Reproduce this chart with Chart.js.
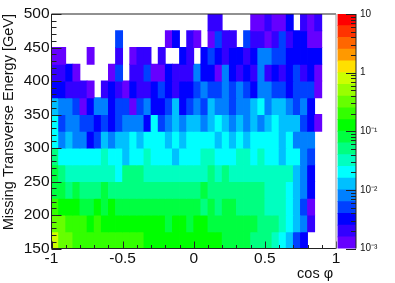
<!DOCTYPE html>
<html>
<head>
<meta charset="utf-8">
<style>
  html, body { margin: 0; padding: 0; background: #fff; }
  #wrap { position: relative; width: 395px; height: 283px; overflow: hidden; }
  canvas { position: absolute; top: 0; }
  #plot { left: 0; }
  #bar { left: 330px; }
</style>
<script src="https://cdn.jsdelivr.net/npm/chart.js@4"></script>
</head>
<body>
<div id="wrap">
  <canvas id="plot" width="395" height="283"></canvas>
  <canvas id="bar" width="65" height="283"></canvas>
</div>
<script>
'use strict';
var _ = null;

// bin centres and edges
var cosPhiBins = [-0.975, -0.925, -0.875, -0.825, -0.775, -0.725, -0.675, -0.625, -0.575, -0.525,
  -0.475, -0.425, -0.375, -0.325, -0.275, -0.225, -0.175, -0.125, -0.075, -0.025,
  0.025, 0.075, 0.125, 0.175, 0.225, 0.275, 0.325, 0.375, 0.425, 0.475,
  0.525, 0.575, 0.625, 0.675, 0.725, 0.775, 0.825, 0.875, 0.925, 0.975];
var metBins = [475, 450, 425, 400, 375, 350, 325, 300, 275, 250, 225, 200, 175, 150];
var metBinWidth = 25;

// cell contents, one array per MET row, top row first
var met475 = [_,_,_,_,_,_,_,_,_,_,_,_,_,_,_,_,_,_,_,_,_,_,.002,.002,_,_,_,_,.0013,.0013,.002,.0013,.0013,.0032,_,.002,.0013,.002,_,_];
var met450 = [_,_,_,_,_,_,_,_,_,.005,_,_,_,_,_,_,.0013,.0032,_,.002,.0013,_,.0013,.005,.002,.002,_,.005,.002,.002,.0013,.002,.005,.002,.0032,.0032,.0013,.0013,_,_];
var met425 = [.0013,.0013,_,_,_,.0013,_,_,_,.002,_,.0013,.002,.002,_,.002,_,_,.0032,.002,_,.0032,.005,.0032,.002,.0032,.0032,.002,.0032,.008,.008,.005,.005,.0032,.0032,.0032,.0032,.0032,_,_];
var met400 = [.002,.002,.0032,.0013,_,_,_,_,.0013,.005,_,.002,.002,.005,.0013,.0013,.0032,.002,.002,.002,.008,.0032,.0032,.0013,.008,.0032,.002,.0032,.002,.008,.002,.0032,.002,.0032,.005,.002,.0032,.0013,_,_];
var met375 = [.0032,.0032,.002,.002,.002,.0013,_,.002,.0032,.002,.0013,.0032,.002,.002,.0032,.005,.0032,.002,.0032,.0032,.005,.008,.005,.005,.008,.005,.008,.005,.0032,.008,.008,.005,.005,.0032,.005,.005,.005,.0013,_,_];
var met350 = [.013,.008,.008,.005,.0013,.0032,.008,.008,.0032,.005,.005,.0013,.005,.008,.0032,.0032,.005,.013,.0032,.005,.008,.005,.013,.008,.008,.005,.008,.008,.013,.02,.008,.013,.013,.008,.005,.008,.0032,_,_,_];
var met325 = [.02,.005,.008,.008,.005,.005,.0032,.005,.0032,.005,.008,.008,.008,.0032,.02,.005,.008,.013,.008,.013,.013,.008,.013,.02,.013,.008,.013,.008,.013,.008,.013,.02,.013,.013,.013,.005,.0032,.0013,_,_];
var met300 = [.02,.008,.013,.008,.008,.0032,.005,.013,.008,.013,.013,.02,.013,.02,.02,.02,.013,.02,.013,.02,.02,.02,.02,.013,.02,.013,.02,.013,.02,.02,.02,.02,.013,.02,.008,.008,.008,_,_,_];
var met275 = [.05,.02,.02,.02,.02,.02,.02,.032,.02,.02,.013,.02,.02,.032,.02,.02,.02,.013,.02,.02,.02,.032,.032,.02,.02,.02,.032,.032,.02,.032,.02,.02,.013,.02,.02,.008,.005,_,_,_];
var met250 = [.08,.05,.032,.032,.032,.032,.032,.032,.032,.02,.05,.05,.05,.032,.032,.032,.032,.032,.032,.032,.032,.032,.05,.032,.05,.032,.032,.032,.032,.032,.032,.032,.032,.032,.013,.008,.0032,_,_,_];
var met225 = [.08,.08,.05,.08,.05,.05,.05,.08,.05,.05,.05,.05,.05,.05,.05,.05,.05,.05,.05,.05,.05,.08,.05,.05,.05,.05,.05,.05,.05,.05,.032,.032,.032,.02,.013,.008,.0032,_,_,_];
var met200 = [.2,.13,.13,.13,.08,.08,.13,.08,.13,.08,.08,.08,.08,.08,.08,.08,.08,.08,.08,.08,.08,.05,.08,.05,.08,.08,.05,.05,.05,.05,.032,.032,.032,.02,.013,.005,.0013,_,_,_];
var met175 = [.32,.32,.2,.2,.2,.13,.2,.13,.13,.13,.13,.13,.13,.13,.13,.13,.08,.13,.13,.08,.13,.13,.08,.08,.08,.08,.08,.08,.08,.05,.05,.05,.032,.02,.013,.008,.002,_,_,_];
var met150 = [.8,.32,.32,.2,.2,.2,.2,.2,.2,.2,.2,.2,.2,.13,.13,.13,.13,.13,.13,.13,.13,.13,.13,.13,.08,.08,.08,.08,.05,.05,.05,.032,.02,.013,.005,.0032,_,_,_,_];
var metRows = [met475, met450, met425, met400, met375, met350, met325, met300, met275, met250, met225, met200, met175, met150];

// palette, lowest band first, and the contour edges on the colour scale
var bandColors = ['#6600ff', '#3300ff', '#0000ff', '#0040ff', '#0080ff', '#00c0ff', '#00ffff', '#00ffc0', '#00ff80', '#00ff40',
  '#00ff00', '#33ff00', '#66ff00', '#99ff00', '#ccff00', '#ffe000', '#ff9900', '#ff6600', '#ff3300', '#ff0000'];
var bandEdges = [0.001, 0.00158, 0.00251, 0.00398, 0.00631, 0.01, 0.0158, 0.0251, 0.0398, 0.0631,
  0.1, 0.158, 0.251, 0.398, 0.631, 1, 1.58, 2.51, 3.98, 6.31, 10];
var zTicks = [0.001, 0.002, 0.003, 0.004, 0.005, 0.006, 0.007, 0.008, 0.009,
  0.01, 0.02, 0.03, 0.04, 0.05, 0.06, 0.07, 0.08, 0.09,
  0.1, 0.2, 0.3, 0.4, 0.5, 0.6, 0.7, 0.8, 0.9,
  1, 2, 3, 4, 5, 6, 7, 8, 9, 10];
var zLabels = { '0.001': '10\u207B\u00B3', '0.01': '10\u207B\u00B2', '0.1': '10\u207B\u00B9', '1': '1', '10': '10' };

function colorFor(v) {
  for (let i = 0; i < bandColors.length; i++) {
    if (v < bandEdges[i + 1]) {
      return bandColors[i];
    }
  }
  return bandColors[bandColors.length - 1];
}

// one floating-bar dataset per MET row, empty cells are left out
var datasets = metRows.map((row, r) => {
  let cells = [];
  row.forEach((v, k) => {
    if (v !== null) {
      cells.push({ x: cosPhiBins[k], y: [metBins[r], metBins[r] + metBinWidth], v: v });
    }
  });
  return {
    data: cells,
    backgroundColor: cells.map(c => colorFor(c.v)),
    borderWidth: 0,
    inflateAmount: 0.4,
    grouped: false,
    barPercentage: 1,
    categoryPercentage: 1
  };
});

// ROOT style ticks point into the plot, Chart.js only draws them outwards
var innerTicks = {
  id: 'innerTicks',
  afterDatasetsDraw(chart) {
    let a = chart.chartArea, c = chart.ctx;
    c.save();
    c.lineWidth = 1;
    c.strokeStyle = '#222';
    c.beginPath();
    if (chart.scales.x.options.display) {
      chart.scales.x.ticks.forEach(t => {
        let px = Math.round(chart.scales.x.getPixelForValue(t.value)) + 0.5;
        let major = Math.abs(t.value * 2 - Math.round(t.value * 2)) < 1e-6;
        c.moveTo(px, a.bottom);
        c.lineTo(px, a.bottom - (major ? 7 : 3.5));
      });
      chart.scales.y.ticks.forEach(t => {
        let py = Math.round(chart.scales.y.getPixelForValue(t.value)) + 0.5;
        c.moveTo(a.left, py);
        c.lineTo(a.left + (t.value % 50 === 0 ? 10 : 5), py);
      });
      c.moveTo(a.left, a.top);
      c.lineTo(a.right, a.top);
      c.moveTo(a.left, a.top);
      c.lineTo(a.left, a.bottom);
      c.moveTo(a.left, a.bottom);
      c.lineTo(a.right, a.bottom);
      c.stroke();
      c.beginPath();
      c.strokeStyle = '#999';
      c.moveTo(a.right, a.top);
      c.lineTo(a.right, a.bottom);
    } else {
      chart.scales.y.ticks.forEach(t => {
        let py = Math.round(chart.scales.y.getPixelForValue(t.value)) + 0.5;
        let major = zLabels[String(t.value)] !== undefined;
        c.moveTo(a.right, py);
        c.lineTo(a.right - (major ? 10 : 5), py);
      });
      c.moveTo(a.right, a.top);
      c.lineTo(a.right, a.bottom);
    }
    c.stroke();
    c.restore();
  }
};

var textColor = '#111';
var fontFamily = '"Liberation Sans", Arial, sans-serif';

new Chart(document.getElementById('plot').getContext('2d'), {
  type: 'bar',
  data: { datasets: datasets },
  plugins: [innerTicks],
  options: {
    responsive: false,
    animation: false,
    layout: { padding: { top: 14, right: 59, left: 0, bottom: 0 } },
    plugins: { legend: { display: false }, tooltip: { enabled: false } },
    scales: {
      x: {
        type: 'linear',
        min: -1,
        max: 1,
        offset: false,
        afterFit: s => { s.height = 34.5; },
        grid: { display: false, drawTicks: false },
        border: { display: false },
        title: {
          display: true, text: 'cos \u03C6\u2009', align: 'end', color: textColor,
          font: { family: fontFamily, size: 14.5 }, padding: { top: 2, bottom: 0 }
        },
        ticks: {
          stepSize: 0.1, autoSkip: false, maxRotation: 0, padding: 1, color: textColor,
          font: { family: fontFamily, size: 15.5 },
          callback: v => (Math.abs(v * 2 - Math.round(v * 2)) < 1e-6 ? String(Math.round(v * 2) / 2) : '')
        }
      },
      y: {
        type: 'linear',
        min: 150,
        max: 500,
        afterFit: s => { s.width = 51.5; },
        grid: { display: false, drawTicks: false },
        border: { display: false },
        title: {
          display: true, text: 'Missing Transverse Energy [GeV]', align: 'end', color: textColor,
          font: { family: fontFamily, size: 14.5 }, padding: { top: 0, bottom: 0 }
        },
        ticks: {
          stepSize: 10, autoSkip: false, padding: 2, color: textColor,
          font: { family: fontFamily, size: 15.5 },
          callback: v => (v % 50 === 0 ? String(v) : '')
        }
      }
    }
  }
});

// colour scale in its own small chart next to the plot
var zBands = bandColors.map((col, i) => ({
  data: [[bandEdges[i], bandEdges[i + 1]]],
  backgroundColor: col,
  borderWidth: 0,
  inflateAmount: 0.4,
  grouped: false,
  barPercentage: 1,
  categoryPercentage: 1
}));

new Chart(document.getElementById('bar').getContext('2d'), {
  type: 'bar',
  data: { labels: ['z'], datasets: zBands },
  plugins: [innerTicks],
  options: {
    responsive: false,
    animation: false,
    layout: { padding: { top: 14, bottom: 34.5, left: 7.5, right: 0 } },
    plugins: { legend: { display: false }, tooltip: { enabled: false } },
    scales: {
      x: { display: false },
      y: {
        type: 'logarithmic',
        position: 'right',
        min: 0.001,
        max: 10,
        afterBuildTicks: s => { s.ticks = zTicks.map(v => ({ value: v })); },
        afterFit: s => { s.width = 39; },
        grid: { display: false, drawTicks: false },
        border: { display: false },
        ticks: {
          autoSkip: false, padding: 4, color: textColor,
          font: { family: fontFamily, size: 10 },
          callback: v => zLabels[String(v)] || ''
        }
      }
    }
  }
});
</script>
</body>
</html>
